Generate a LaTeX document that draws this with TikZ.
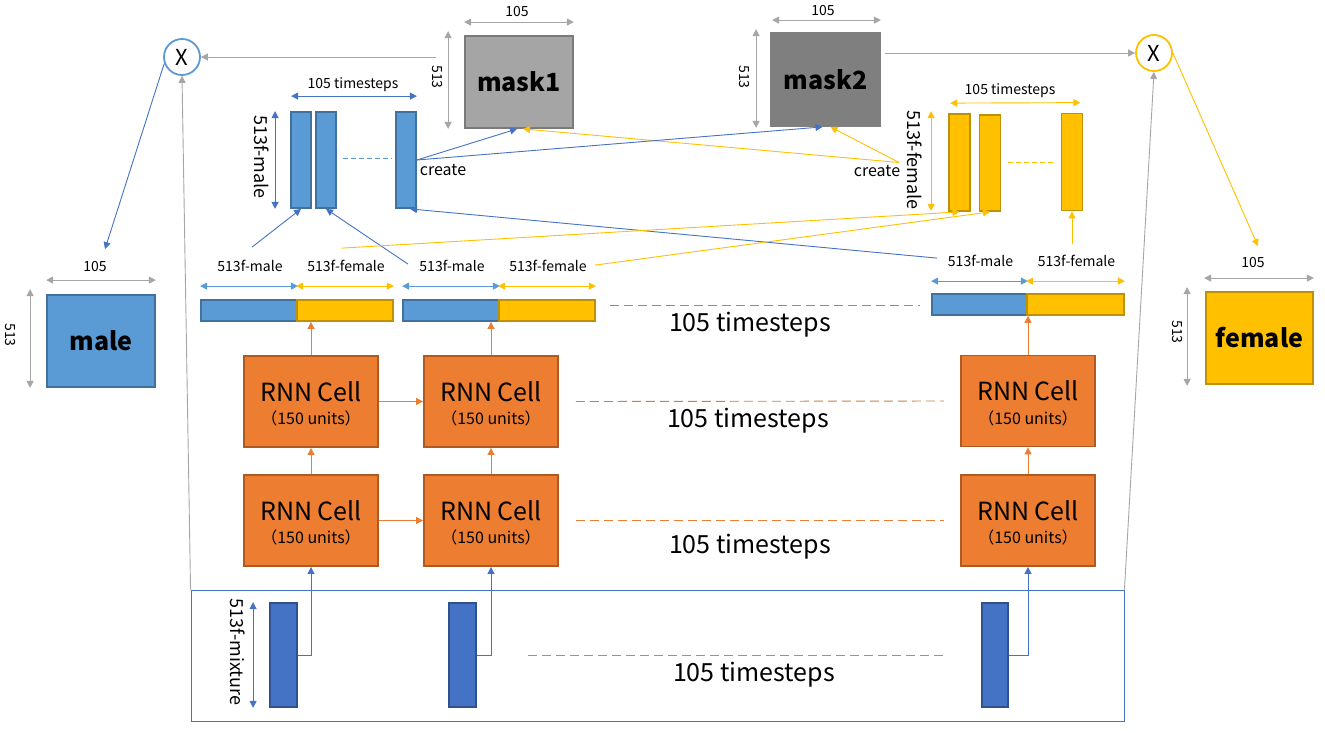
\documentclass[tikz,border=0pt]{standalone}
\usepackage{fontspec}
\setmainfont{Noto Sans CJK SC}
\usetikzlibrary{arrows.meta,calc}
\definecolor{lblue}{HTML}{5B9BD5}
\definecolor{lblueD}{HTML}{41719C}
\definecolor{dblue}{HTML}{4472C4}
\definecolor{dblueD}{HTML}{2F528F}
\definecolor{yel}{HTML}{FFC000}
\definecolor{yelD}{HTML}{BF9000}
\definecolor{orng}{HTML}{ED7D31}
\definecolor{orngD}{HTML}{AE5A21}
\definecolor{gmask}{HTML}{A5A5A5}
\definecolor{gmaskD}{HTML}{7A7A7A}
\definecolor{gmaskB}{HTML}{7F7F7F}
\definecolor{dimgray}{HTML}{A6A6A6}
\definecolor{dashgray}{HTML}{8497B0}
\tikzset{
  box/.style={draw, line width=1.8pt, inner sep=0pt},
  lbar/.style={box, fill=lblue, draw=lblueD, minimum width=20pt, minimum height=96pt},
  ybar/.style={box, fill=yel, draw=yelD, minimum width=21pt, minimum height=97pt},
  cmbar/.style={box, fill=lblue, draw=lblueD, minimum width=96pt, minimum height=21pt},
  cfbar/.style={box, fill=yel, draw=yelD, minimum width=96pt, minimum height=21pt},
  rnn/.style={box, fill=orng, draw=orngD, minimum width=134pt, minimum height=91pt},
  rnnt/.style={font=\fontsize{25}{28}\selectfont, inner sep=0pt},
  unitt/.style={font=\fontsize{16}{18}\selectfont, inner sep=0pt},
  mixbar/.style={box, fill=dblue, draw=dblueD, minimum width=27pt, minimum height=104pt},
  bigbox/.style={box, minimum width=108pt, minimum height=92pt, font=\fontsize{25}{28}\selectfont\bfseries},
  tip/.style={-{Triangle[width=7pt,length=7pt]}},
  dtip/.style={{Triangle[width=7pt,length=7pt]}-{Triangle[width=7pt,length=7pt]}},
  conn/.style={line width=0.9pt},
  small/.style={font=\fontsize{14}{16}\selectfont, inner sep=0pt},
  vlab/.style={font=\fontsize{18}{20}\selectfont, inner sep=0pt, rotate=-90},
  vsmall/.style={font=\fontsize{14}{16}\selectfont, inner sep=0pt, rotate=-90},
  big/.style={font=\fontsize{25}{28}\selectfont, inner sep=0pt},
  dashln/.style={line width=0.9pt, dash pattern=on 9pt off 5pt},
  mult/.style={circle, draw, line width=1.8pt, fill=white, minimum size=36pt, inner sep=0pt, font=\fontsize{22}{24}\selectfont}
}
\begin{document}
\begin{tikzpicture}[x=1pt,y=-1pt]
\useasboundingbox (0,0) rectangle (1325,732);

% ---------- big boxes ----------
\node[bigbox, fill=gmask, draw=gmaskD] (mask1) at (519,82) {mask1};
\node[bigbox, fill=gmaskB, draw=gmaskB, minimum width=109pt, minimum height=93pt] (mask2) at (825.5,79.5) {mask2};
\node[bigbox, fill=lblue, draw=lblueD] (male) at (101,341) {male};
\node[bigbox, fill=yel, draw=yelD, minimum width=107pt] (female) at (1259.5,338) {female};

% ---------- multiply circles ----------
\node[mult, draw=lblue] (X1) at (182,57) {X};
\node[mult, draw=yel] (X2) at (1154,53) {X};

% ---------- male column ----------
\node[lbar] (ma) at (301,160) {};
\node[lbar] (mb) at (326,160) {};
\node[lbar] (mc) at (406,160) {};
\draw[dashln, lblue, dash pattern=on 5pt off 3pt] ($(mb.east)+(6,-2)$) -- ($(mc.west)+(-4,-2)$);

% ---------- female column ----------
\node[ybar] (fa) at (959.5,162.5) {};
\node[ybar, minimum height=96pt] (fb) at (990,163) {};
\node[ybar] (fc) at (1072,162) {};
\draw[dashln, yel, dash pattern=on 5pt off 3pt] ($(fb.east)+(7,-1)$) -- ($(fc.west)+(-5,0)$);

% ---------- concatenated outputs ----------
\node[cmbar] (c1m) at (249,310.5) {};
\node[cfbar] (c1f) at (345,310.5) {};
\node[cmbar] (c2m) at (451,310.5) {};
\node[cfbar] (c2f) at (547,310.5) {};
\node[cmbar, minimum width=95pt] (c3m) at (979.5,304.5) {};
\node[cfbar, minimum width=97pt] (c3f) at (1075.5,304.5) {};

% ---------- RNN cells ----------
\foreach \n/\x/\y in {r1a/311/401.5, r1b/491/401.5, r1c/1028/401, r2a/311/520.5, r2b/491/520.5, r2c/1028/520.5}{
  \node[rnn] (\n) at (\x,\y) {};
  \node[rnnt] (\n t) at ($(\n.center)+(0,-10)$) {RNN Cell};
  \node[unitt] (\n u) at ($(\n.center)+(0,17)$) {（150 units）};
}

% ---------- input box ----------
\node[draw=dblue, line width=0.9pt, minimum width=933pt, minimum height=131pt, inner sep=0pt] (inbox) at (657.5,655.5) {};
\node[mixbar] (m1) at (283.5,655) {};
\node[mixbar] (m2) at (462.5,655) {};
\node[mixbar, minimum width=26pt] (m3) at (995,655) {};

% ---------- dimension annotations ----------
% mask1
\draw[dtip, dimgray, conn] ($(mask1.north west)+(0,-13)$) -- ($(mask1.north east)+(0,-13)$);
\node[small] (t105a) at (517,12) {105};
\draw[dtip, dimgray, conn] ($(mask1.north west)+(-16,-4)$) -- ($(mask1.south west)+(-16,0)$);
\node[vsmall] (t513a) at (437,77) {513};
% mask2
\draw[dtip, dimgray, conn] ($(mask2.north west)+(2,-12)$) -- ($(mask2.north east)+(0,-12)$);
\node[small] (t105b) at (823,11) {105};
\draw[dtip, dimgray, conn] ($(mask2.north west)+(-14,-3)$) -- ($(mask2.south west)+(-14,1)$);
\node[vsmall] (t513b) at (744,77) {513};
% male
\draw[dtip, dimgray, conn] ($(male.north west)+(0,-14)$) -- ($(male.north east)+(0,-14)$);
\node[small] (t105c) at (95,267) {105};
\draw[dtip, dimgray, conn] ($(male.north west)+(-16,-5)$) -- ($(male.south west)+(-16,0)$);
\node[vsmall] (t513c) at (10,335) {513};
% female
\draw[dtip, dimgray, conn] ($(female.north west)+(-1,-13)$) -- ($(female.north east)+(0,-13)$);
\node[small] (t105d) at (1253,263) {105};
\draw[dtip, dimgray, conn] ($(female.north west)+(-18,-4)$) -- ($(female.south west)+(-18,1)$);
\node[vsmall] (t513d) at (1177,332) {513};

% male column dims
\draw[dtip, dblue, conn] ($(ma.north west)+(1,-15)$) -- ($(mc.north east)+(0,-15)$);
\node[small] (tms) at (353,85) {105 timesteps};
\draw[dtip, dblue, conn] ($(ma.north west)+(-15,0)$) -- ($(ma.south west)+(-15,0)$);
\node[vlab] (tmm) at (262,157) {513f-male};
% female column dims
\draw[dtip, yel, conn] ($(fa.north west)+(2,-10)$) -- ($(fc.north east)+(-3,-10)$);
\node[small] (tfs) at (1010,91) {105 timesteps};
\draw[dtip, yel, conn] ($(fa.north west)+(-17,-2)$) -- ($(fa.south west)+(-17,-1)$);
\node[vlab] (tff) at (915,160) {513f-female};
% mixture dims
\draw[dtip, dblue, conn] ($(m1.north west)+(-16,0)$) -- ($(m1.south west)+(-16,0)$);
\node[vlab] (tmx) at (238,652) {513f-mixture};

% concat labels and dims
\foreach \b/\c/\lab in {c1m/lblue/513f-male, c1f/yel/513f-female, c2m/lblue/513f-male, c2f/yel/513f-female}{
  \draw[dtip, \c, conn] ($(\b.north west)+(0,-13)$) -- ($(\b.north east)+(0,-13)$);
  \node[small] (l\b) at ($(\b.north)+(1,-33)$) {\lab};
}
\foreach \b/\c/\lab in {c3m/lblue/513f-male, c3f/yel/513f-female}{
  \draw[dtip, \c, conn] ($(\b.north west)+(0,-12)$) -- ($(\b.north east)+(0,-12)$);
  \node[small] (l\b) at ($(\b.north)+(1,-32)$) {\lab};
}

% ---------- timesteps dashed lines ----------
\draw[dashln, lblue] (610,305) -- (920,305);
\node[big] (ts1) at (750,325) {105 timesteps};
\draw[dashln, orng!70!gray] ($(r1b.east)+(17,0)$) -- ($(r1c.west)+(-16,0)$);
\node[big] (ts2) at (748,421) {105 timesteps};
\draw[dashln, orng] ($(r2b.east)+(17,0)$) -- ($(r2c.west)+(-16,0)$);
\node[big] (ts3) at (750,547) {105 timesteps};
\draw[dashln, dashgray] (528,655) -- (946,655);
\node[big] (ts4) at (754,675) {105 timesteps};

% ---------- RNN connectors ----------
\foreach \a/\b in {r2a/r1a, r2b/r1b, r2c/r1c}{
  \draw[tip, orng, conn] (\a.north) -- (\b.south);
}
\draw[tip, orng, conn] (r1a.east) -- (r1b.west);
\draw[tip, orng, conn] (r2a.east) -- (r2b.west);
\draw[tip, orng, conn] (r1a.north) -- (r1a.north |- c1f.south);
\draw[tip, orng, conn] (r1b.north) -- (r1b.north |- c2m.south);
\draw[tip, orng, conn] (r1c.north) -- (r1c.north |- c3m.south);

% mixture to RNN
\draw[tip, dblue, conn] (m1.east) -| (r2a.south);
\draw[tip, dblue, conn] (m2.east) -| (r2b.south);
\draw[tip, dblue, conn] (m3.east) -| (r2c.south);

% ---------- column connectors ----------
\coordinate (s1) at ($(c1m.north)+(3,-52)$);
\coordinate (s2) at ($(c2m.north)+(-43,-35)$);
\coordinate (s3) at ($(c3m.north)+(-42.5,-35)$);
\coordinate (s4) at ($(c1f.north)+(-3,-51)$);
\coordinate (s5) at ($(c2f.north)+(48,-34)$);
\coordinate (s6) at ($(c3f.north)+(-3.5,-49)$);
\draw[tip, dblue, conn] (s1) -- (ma.south);
\draw[tip, dblue, conn] (s2) -- (mb.south);
\draw[tip, dblue, conn] (s3) -- ($(mc.south)+(4,0)$);
\draw[tip, yel, conn] (s4) -- (fa.south);
\draw[tip, yel, conn] (s5) -- (fb.south);
\draw[tip, yel, conn] (s6) -- (fc.south);

% ---------- create masks ----------
\coordinate (cb) at (mc.east);
\coordinate (cy) at ($(fa.west)+(-49,0)$);
\node[font=\fontsize{16}{18}\selectfont, inner sep=0pt] (crb) at (443,170) {create};
\node[font=\fontsize{16}{18}\selectfont, inner sep=0pt] (cry) at (877,171) {create};
\draw[tip, yel, conn] (cy) -- ($(mask1.south)+(4,0)$);
\draw[tip, yel, conn] (cy) -- ($(mask2.south)+(5,0)$);
\draw[tip, dblue, conn] (cb) -- ($(mask1.south)+(-2,0)$);
\draw[tip, dblue, conn] (cb) -- ($(mask2.south)+(-3,0)$);

% ---------- masks to multipliers ----------
\coordinate (mk1) at ($(mask1.west)+(-28,-25)$);
\coordinate (mk2) at ($(mask2.east)+(4,-26.5)$);
\draw[tip, dimgray, conn] (mk1) -- (X1.east);
\draw[tip, dimgray, conn] (mk2) -- (X2.west);
\draw[tip, dimgray, conn] (inbox.north west) -- (X1.south);
\draw[tip, dimgray, conn] (inbox.north east) -- (X2.south);

% ---------- multipliers to outputs ----------
\coordinate (o1) at ($(male.north)+(4,-45)$);
\coordinate (o2) at ($(female.north)+(-1.5,-45)$);
\draw[tip, dblue, conn] (X1.200) -- (o1);
\draw[tip, yel, conn] (X2.east) -- (o2);
\end{tikzpicture}
\end{document}
